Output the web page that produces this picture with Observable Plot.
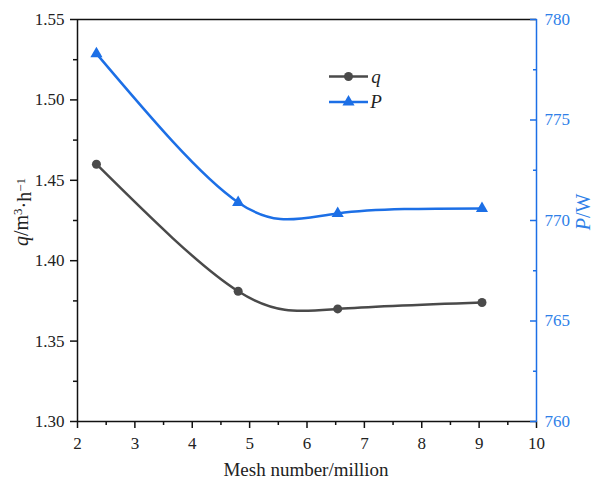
<!DOCTYPE html>
<html><head><meta charset="utf-8">
<script src="https://cdn.jsdelivr.net/npm/d3@7"></script>
<script src="https://cdn.jsdelivr.net/npm/@observablehq/plot@0.6"></script>
<style>
body{margin:0;background:#fff}
svg{display:block}
svg text{font-family:'Liberation Serif','Times New Roman',serif !important;font-variant-numeric:normal !important}
</style>
</head><body><div id="chart"></div>
<script>
const meshMillions = [2.33, 4.80, 6.535, 9.05];
const qValues = [1.460, 1.381, 1.370, 1.374];
const pValues = [778.3, 770.9, 770.35, 770.6];
const xTicks = [2, 3, 4, 5, 6, 7, 8, 9, 10];
const xMinorTicks = [2.5, 3.5, 4.5, 5.5, 6.5, 7.5, 8.5, 9.5];
const qTicks = [1.30, 1.35, 1.40, 1.45, 1.50, 1.55];
const qMinorTicks = [1.325, 1.375, 1.425, 1.475, 1.525];
const pTicks = [760, 765, 770, 775, 780];
const pMinorTicks = [762.5, 767.5, 772.5, 777.5];
const qDomain = [1.30, 1.55];
const pDomain = [760, 780];
const xDomain = [2, 10];

const GRAY = "#4a4a4a";
const BLUE = "#1c6fe6";
const BLUE_TEXT = "#2f7fe8";
const FONT = "'Liberation Serif', 'Times New Roman', serif";

const pToQ = p => qDomain[0] + (p - pDomain[0]) / (pDomain[1] - pDomain[0]) * (qDomain[1] - qDomain[0]);
const qToP = q => pDomain[0] + (q - qDomain[0]) / (qDomain[1] - qDomain[0]) * (pDomain[1] - pDomain[0]);

const qData = meshMillions.map((x, i) => ({x, v: qValues[i]}));
const pData = meshMillions.map((x, i) => ({x, v: pToQ(pValues[i])}));

const chart = Plot.plot({
  width: 594, height: 484,
  marginLeft: 77, marginRight: 58, marginTop: 19, marginBottom: 63,
  style: {fontFamily: FONT, fontSize: "17px", color: "#222", background: "#fff"},
  x: {domain: xDomain, label: null},
  y: {domain: qDomain, label: null},
  marks: [
    Plot.ruleY([qDomain[1]], {stroke: "#111", strokeWidth: 1.5}),
    Plot.ruleY([qDomain[0]], {stroke: "#111", strokeWidth: 1.5}),
    Plot.ruleX([xDomain[0]], {stroke: "#111", strokeWidth: 1.5}),
    Plot.axisX({ticks: xTicks, tickSize: 7, tickPadding: 8, tickFormat: d3.format("d"), stroke: "#111", strokeWidth: 1.5, fill: "#222", fontFamily: FONT, fontSize: 17}),
    Plot.axisX({ticks: xMinorTicks, tickSize: 4, tickFormat: () => "", stroke: "#111", strokeWidth: 1.5}),
    Plot.axisY({ticks: qTicks, tickSize: 7, tickPadding: 6, tickFormat: d3.format(".2f"), stroke: "#111", strokeWidth: 1.5, fill: "#222", fontFamily: FONT, fontSize: 17}),
    Plot.axisY({ticks: qMinorTicks, tickSize: 4, tickFormat: () => "", stroke: "#111", strokeWidth: 1.5}),
    Plot.axisY({anchor: "right", ticks: pTicks.map(pToQ), tickSize: -7, tickPadding: 15, tickFormat: d => d3.format("d")(Math.round(qToP(d))), stroke: BLUE, strokeWidth: 1.5, fill: BLUE_TEXT, fontFamily: FONT, fontSize: 17}),
    Plot.axisY({anchor: "right", ticks: pMinorTicks.map(pToQ), tickSize: -4, tickFormat: () => "", stroke: BLUE, strokeWidth: 1.5}),
    Plot.ruleX([xDomain[1]], {stroke: BLUE, strokeWidth: 1.5}),
    Plot.line(qData, {x: "x", y: "v", curve: "natural", stroke: GRAY, strokeWidth: 2.5}),
    Plot.dot(qData, {x: "x", y: "v", r: 4.5, fill: GRAY, symbol: "circle"}),
    Plot.line(pData, {x: "x", y: "v", curve: "natural", stroke: BLUE, strokeWidth: 2.5}),
    Plot.dot(pData, {x: "x", y: "v", r: 4.5, fill: BLUE, symbol: "triangle"})
  ]
});

const svg = d3.select(chart);
// Axis titles
svg.append("text")
  .attr("x", 306).attr("y", 476)
  .attr("text-anchor", "middle")
  .style("font-family", FONT).style("font-size", "19px").attr("fill", "#222")
  .text("Mesh number/million");

const yl = svg.append("text")
  .attr("transform", "translate(28,212) rotate(-90)")
  .attr("text-anchor", "middle")
  .style("font-family", FONT).style("font-size", "20px").attr("fill", "#222");
yl.append("tspan").style("font-style", "italic").text("q");
yl.append("tspan").text("/m");
yl.append("tspan").attr("dy", "-0.45em").style("font-size", "13px").text("3");
yl.append("tspan").attr("dy", "0.45em").text("·h");
yl.append("tspan").attr("dy", "-0.45em").style("font-size", "13px").text("−1");

const pl = svg.append("text")
  .attr("transform", "translate(590,212) rotate(-90)")
  .attr("text-anchor", "middle")
  .style("font-family", FONT).style("font-size", "20px").attr("fill", BLUE_TEXT);
pl.append("tspan").style("font-style", "italic").text("P");
pl.append("tspan").text("/W");

// Legend
const legend = svg.append("g");
const items = [
  {label: "q", color: GRAY, sym: d3.symbolCircle, y: 76.5},
  {label: "P", color: BLUE, sym: d3.symbolTriangle, y: 102}
];
items.forEach(it => {
  legend.append("line").attr("x1", 329).attr("x2", 368).attr("y1", it.y).attr("y2", it.y)
    .attr("stroke", it.color).attr("stroke-width", 2.5);
  legend.append("path").attr("d", d3.symbol(it.sym, 4.5 * 4.5 * Math.PI)())
    .attr("transform", `translate(348.5,${it.y})`).attr("fill", it.color);
  legend.append("text").attr("x", 376).attr("y", it.y + 6)
    .style("font-family", FONT).style("font-size", "19px").style("font-style", "italic")
    .attr("fill", "#222").text(it.label);
});

document.getElementById("chart").append(chart);
</script>
</body></html>
